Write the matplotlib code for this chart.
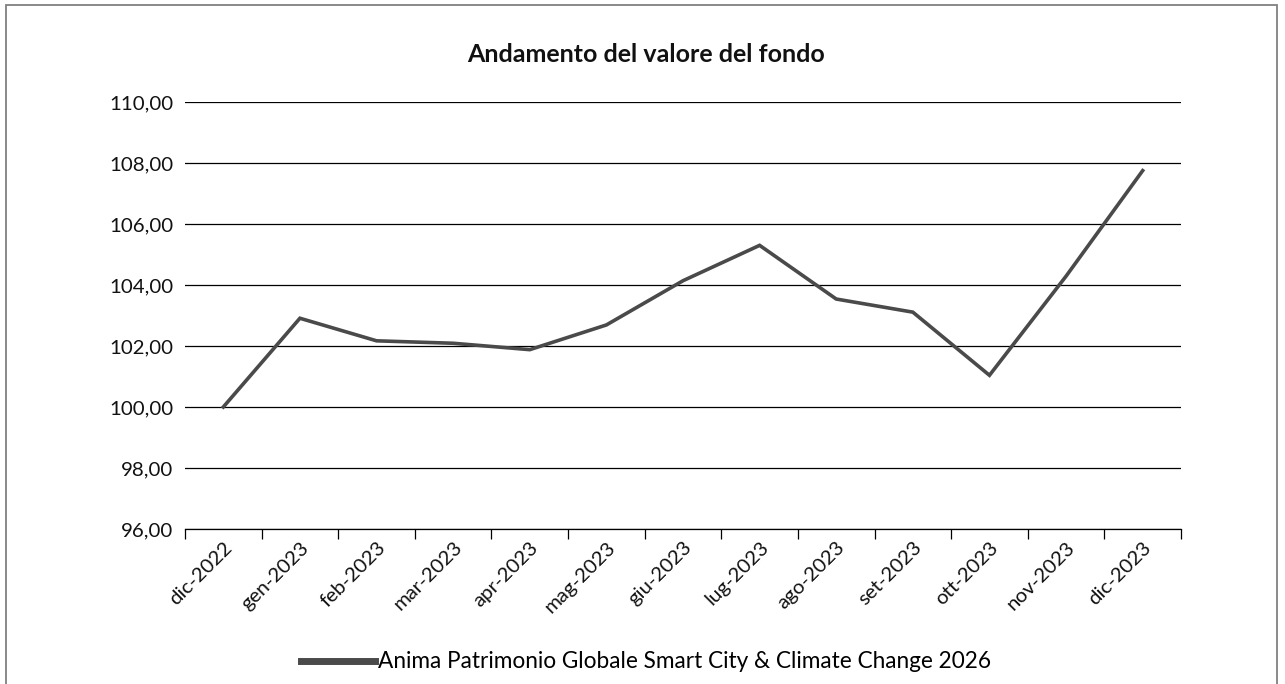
import matplotlib
matplotlib.use("Agg")
import matplotlib.pyplot as plt
from matplotlib.patches import Rectangle
from matplotlib.ticker import FuncFormatter, MultipleLocator, FixedLocator
from matplotlib.lines import Line2D

categories = ["dic-2022", "gen-2023", "feb-2023", "mar-2023", "apr-2023", "mag-2023",
              "giu-2023", "lug-2023", "ago-2023", "set-2023", "ott-2023", "nov-2023", "dic-2023"]
values = [100.00, 102.91, 102.17, 102.09, 101.88, 102.69, 104.14, 105.30,
          103.54, 103.11, 101.04, 104.29, 107.75]
series_name = "Anima Patrimonio Globale Smart City & Climate Change 2026"
title = "Andamento del valore del fondo"

plt.rcParams['font.family'] = ['Lato', 'DejaVu Sans']

fig = plt.figure(figsize=(12.85, 6.84), dpi=100)
fig.patch.set_facecolor("white")
fig.patches.append(Rectangle((6/1285, -0.1), (1277-6)/1285, 1.1 - 5/684,
                             transform=fig.transFigure, fill=False,
                             edgecolor="#808080", linewidth=1.3))

ax = fig.add_axes([185/1285, 1-529/684, (1181-185)/1285, (529-102)/684])
x = list(range(len(categories)))
line, = ax.plot(x, values, color="#4a4a4a", linewidth=2.6, solid_joinstyle="miter")

ax.set_xlim(-0.5, len(categories) - 0.5)
ax.set_ylim(96, 110)
ax.yaxis.set_major_locator(MultipleLocator(2))
ax.yaxis.set_major_formatter(FuncFormatter(lambda v, p: f"{v:.2f}".replace(".", ",")))
ax.grid(axis="y", color="#000000", linewidth=0.9)
ax.set_axisbelow(True)
for s in ["left", "right", "top"]:
    ax.spines[s].set_visible(False)
ax.spines["bottom"].set_color("#000000")
ax.spines["bottom"].set_linewidth(0.9)

ax.tick_params(axis="y", length=0, labelsize=14.7, pad=8.5, labelcolor="#111111")
ax.set_xticks(x)
ax.set_xticklabels(categories, rotation=45, ha="right", rotation_mode="anchor",
                   fontsize=14.7, color="#111111")
ax.tick_params(axis="x", which="major", length=0, pad=7)
ax.xaxis.set_minor_locator(FixedLocator([i - 0.5 for i in range(len(categories) + 1)]))
ax.tick_params(axis="x", which="minor", length=7, width=0.9, color="#000000")

fig.text(0.5025, 1-55/684, title, ha="center", va="center", fontsize=18,
         fontweight="bold", color="#111111")

handle = Line2D([0], [0], color="#4a4a4a", linewidth=5)
fig.legend([handle], [series_name], loc="center", bbox_to_anchor=(0.5025, 1-662/684),
           frameon=False, fontsize=16.3, handlelength=3.3, handletextpad=0.1)

fig.savefig("out.png", dpi=100)
